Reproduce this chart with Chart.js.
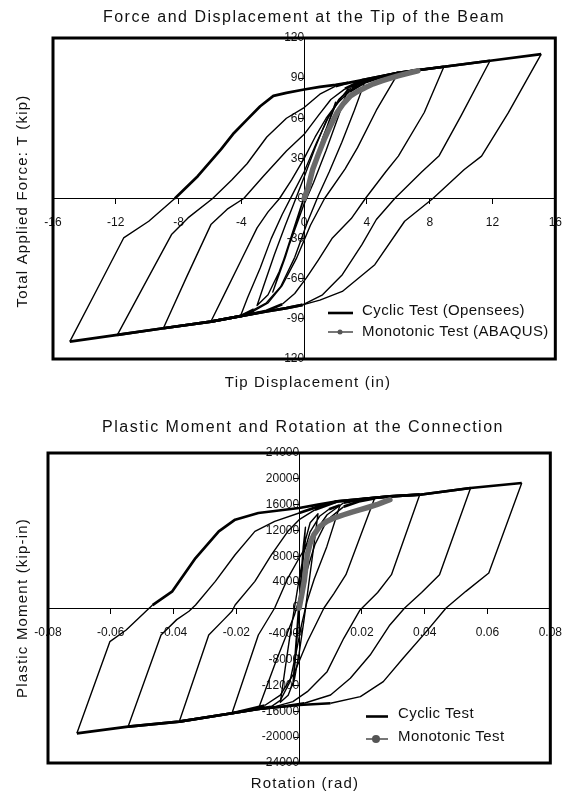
<!DOCTYPE html>
<html><head><meta charset="utf-8">
<script src="https://cdn.jsdelivr.net/npm/chart.js@4.4.1/dist/chart.umd.min.js"></script>
<style>
html,body{margin:0;padding:0;background:#fff;}
canvas{display:block;}
</style></head><body>
<canvas id="c1" width="574" height="398"></canvas>
<canvas id="c2" width="574" height="398"></canvas>
<script>
// ---------- Chart 1: Force vs tip displacement ----------
const topTitle = 'Force and Displacement at the Tip of the Beam';
const topXTitle = 'Tip Displacement (in)';
const topYTitle = 'Total Applied Force: T (kip)';
const topLegend = ['Cyclic Test (Opensees)', 'Monotonic Test (ABAQUS)'];
const topXTicks = [-16, -12, -8, -4, 0, 4, 8, 12, 16];
const topXTickLabels = ['-16', '-12', '-8', '-4', '0', '4', '8', '12', '16'];
const topYTicks = [-120, -90, -60, -30, 0, 30, 60, 90, 120];
const topYTickLabels = ['-120', '-90', '-60', '-30', '0', '30', '60', '90', '120'];

const topCyclicDisp = [
  0, 1, 2.0,
  1.2, 0.4, -0.4, -1.2, -2.0,
  -1.2, -0.4, 0.4, 1.2, 2.0, 2.8,
  2.2, 1.4, 0.6, 0, -0.8, -1.6, -2.3, -3.0,
  -2.6, -1.9, -1.2, -0.6, 0, 0.7, 1.4, 2.2, 3.0, 3.9,
  3.2, 2.4, 1.6, 0.9, 0.2, -0.6, -1.5, -2.4, -3.2, -4.06,
  -3.6, -2.8, -2.1, -1.4, -0.7, 0, 0.8, 1.6, 2.4, 3.4, 4.5, 6.0,
  4.6, 3.4, 2.6, 1.3, 0.4, -0.5, -1.4, -2.3, -3.2, -4.06, -5.0, -5.94,
  -5.0, -4.0, -3.0, -2.3, -1.57, -0.8, 0, 0.7, 1.4, 2.1, 2.9, 3.9, 5.0, 6.0, 7.2, 8.9,
  7.65, 6.0, 5.2, 3.9, 3.0, 1.8, 0.9, 0.13, -0.6, -1.4, -2.4, -4.06, -5.94, -8.97,
  -7.5, -5.94, -4.9, -3.85, -2.6, -1.13, 0, 0.9, 1.7, 2.6, 3.7, 6.0, 8.9, 11.84,
  10.0, 8.6, 7.5, 5.77, 4.6, 3.68, 2.43, 1.17, -0.1, -1.13, -2.4, -4.06, -5.94, -8.97, -11.9,
  -10.2, -8.45, -7.4, -5.83, -4.6, -3.64, -2.38, -1.13, 0, 1.0, 2.0, 2.8, 3.7, 6.0, 8.9, 11.84, 15.1,
  13.0, 11.3, 10.2, 8.2, 6.4, 4.5, 2.43, 1.0, -0.1, -1.13, -2.4, -4.06, -5.94, -8.97, -11.9, -14.93,
  -13.2, -11.5, -9.9, -8.24, -6.78, -5.3, -4.47, -3.64, -2.8, -1.96, -1.13, 0, 1.0, 2.0, 2.8
];
const topCyclicForce = [
  0, 37, 72,
  45, 15, -14, -44, -70,
  -42, -13, 16, 46, 70, 82,
  62, 36, 12, -4, -30, -55, -72, -80,
  -66, -42, -20, -2, 16, 38, 58, 74, 83, 88.5,
  66, 42, 20, 2, -18, -44, -66, -78, -83, -88,
  -74, -52, -30, -12, 4, 20, 42, 62, 76, 85, 90, 94,
  66, 38, 22, 0, -20, -45, -65, -78, -84, -88, -90, -92,
  -69.6, -45.8, -22, -10, 0, 14, 30, 46, 60, 71, 80, 87, 91, 94, 96, 98.5,
  64.3, 31.7, 20, 0, -15, -29.5, -46, -59.5, -71, -79, -84, -88, -92, -97,
  -59, -19.5, -8, 0, 16.7, 35.5, 48, 62, 74, 82, 88.5, 94, 98.5, 103,
  62, 32, 20, 0, -15.7, -34.5, -57, -72, -79.5, -82, -84.5, -88, -92, -97, -102,
  -65, -27, -14.5, 0, 14, 26, 46, 60, 68, 78, 84, 86.5, 88.5, 94, 98.5, 103, 108,
  64, 31.7, 21.7, 0, -17, -49.5, -69.5, -76, -79.5, -82, -84.5, -88, -92, -97, -102, -107,
  -68, -29.5, -17, 0, 16.7, 36.7, 49, 59, 69, 76.7, 79, 81.5, 83.5, 85, 86.5
];
const topMonoDisp = [0, 0.25, 0.54, 0.9, 1.27, 1.7, 2.1, 2.5, 2.95, 3.4, 3.9, 4.4, 4.94, 5.5, 5.98, 6.6, 7.24];
const topMonoForce = [0, 8, 21.7, 33, 44, 55, 64.3, 71, 76.7, 80, 83, 85.7, 88, 90, 91.7, 93.6, 95.5];

// ---------- Chart 2: Plastic moment vs rotation ----------
const botTitle = 'Plastic Moment and Rotation at the Connection';
const botXTitle = 'Rotation (rad)';
const botYTitle = 'Plastic Moment (kip-in)';
const botLegend = ['Cyclic Test', 'Monotonic Test'];
const botXTicks = [-0.08, -0.06, -0.04, -0.02, 0, 0.02, 0.04, 0.06, 0.08];
const botXTickLabels = ['-0.08', '-0.06', '-0.04', '-0.02', '0', '0.02', '0.04', '0.06', '0.08'];
const botYTicks = [-24000, -20000, -16000, -12000, -8000, -4000, 0, 4000, 8000, 12000, 16000, 20000, 24000];
const botYTickLabels = ['-24000', '-20000', '-16000', '-12000', '-8000', '-4000', '0', '4000', '8000', '12000', '16000', '20000', '24000'];

const botCyclicRot = [
  0, 0.0006, 0.0013, 0.002,
  0.0012, 0.0004, -0.0004, -0.0012, -0.002,
  -0.0012, -0.0003, 0.0008, 0.002, 0.0035, 0.006,
  0.0045, 0.003, 0.0015, 0, -0.0015, -0.0035, -0.006,
  -0.0045, -0.003, -0.0015, 0, 0.0015, 0.0035, 0.0065, 0.0095, 0.013,
  0.0088, 0.0048, 0.0025, 0.0008, -0.001, -0.003, -0.006, -0.009, -0.013,
  -0.0072, -0.0015, 0.001, 0.0026, 0.005, 0.0089, 0.0142, 0.019, 0.024,
  0.0149, 0.011, 0.0079, 0.0026, -0.0015, -0.006, -0.011, -0.0214,
  -0.013, -0.0078, -0.0036, 0, 0.004, 0.0089, 0.0142, 0.0208, 0.0289, 0.0384,
  0.0294, 0.025, 0.0194, 0.0142, 0.0089, 0.0026, -0.002, -0.008, -0.013, -0.0214, -0.0382,
  -0.0288, -0.024, -0.0214, -0.0204, -0.0141, -0.0088, -0.0036, 0, 0.005, 0.0121, 0.0289, 0.0384, 0.0546,
  0.0447, 0.039, 0.0336, 0.0289, 0.0226, 0.0163, 0.01, 0.0016, -0.005, -0.013, -0.0214, -0.0382, -0.0545,
  -0.044, -0.039, -0.0351, -0.033, -0.0267, -0.0204, -0.0141, -0.0078, 0, 0.006, 0.0121, 0.0289, 0.0384, 0.0546, 0.0709,
  0.0604, 0.0531, 0.0468, 0.0405, 0.0331, 0.0268, 0.0195, 0.01, 0, -0.013, -0.0214, -0.0382, -0.0545, -0.0708,
  -0.0603, -0.0551, -0.0488, -0.0467, -0.0404, -0.033, -0.0256, -0.0204, -0.013, 0, 0.006, 0.0121
];
const botCyclicMoment = [
  0, 5000, 9500, 12500,
  7000, 2000, -3000, -8000, -12000,
  -6500, -500, 5500, 10500, 13200, 14600,
  9000, 3500, -2000, -7000, -11000, -13500, -14600,
  -9500, -4500, 0, 4500, 8500, 11800, 14200, 15300, 15900,
  9500, 4500, 1000, -2500, -7000, -11500, -14300, -15300, -15640,
  -8000, -1080, 3000, 6000, 9800, 13600, 15700, 16500, 16950,
  5160, 2200, 0, -5220, -10000, -13500, -15100, -16300,
  -4180, 0, 4640, 7740, 11000, 14440, 16300, 16900, 17290, 17540,
  5160, 2400, -300, -4690, -9860, -12960, -14500, -15300, -15640, -16300, -17600,
  -4180, -1800, -510, 460, 4130, 8250, 11870, 13670, 15200, 16510, 17290, 17540, 18580,
  5160, 2400, 0, -2630, -7280, -10880, -13470, -14750, -15250, -15640, -16300, -17600, -18370,
  -4180, -1800, -510, 460, 4130, 8250, 11870, 13420, 14710, 15700, 16510, 17290, 17540, 18580, 19350,
  5420, 2580, 0, -3660, -7790, -11400, -13730, -14750, -15020, -15640, -16300, -17600, -18370, -19400,
  -5210, -3400, -510, 460, 2580, 7740, 11870, 13670, 14710, 15480, 16000, 16510
];
const botMonoRot = [0, 0.0008, 0.0016, 0.0021, 0.0026, 0.0035, 0.0047, 0.0065, 0.0089, 0.0115, 0.0142, 0.0168, 0.0195, 0.0221, 0.0247, 0.0268, 0.0289];
const botMonoMoment = [0, 2000, 4130, 6200, 8250, 10000, 11350, 12600, 13420, 14000, 14440, 14850, 15220, 15600, 15990, 16400, 16760];

// ---------- helpers ----------
const FONT = '"Liberation Sans", Arial, Helvetica, sans-serif';
Chart.defaults.font.family = FONT;
function pts(xs, ys) { return xs.map((x, i) => ({ x: x, y: ys[i] })); }

function setSpacing(ctx, v) { if ('letterSpacing' in ctx) ctx.letterSpacing = v; }

function decoPlugin(cfg) {
  return {
    id: 'deco',
    afterDraw(chart) {
      const ctx = chart.ctx, a = chart.chartArea;
      ctx.save();
      // plot box
      ctx.strokeStyle = '#000';
      ctx.lineWidth = 3;
      ctx.strokeRect(a.left, a.top, a.right - a.left, a.bottom - a.top);
      // titles
      ctx.fillStyle = '#111';
      ctx.textAlign = 'center';
      ctx.textBaseline = 'middle';
      setSpacing(ctx, '1.5px');
      ctx.font = '16px ' + FONT;
      ctx.fillText(cfg.title, cfg.titlePos[0], cfg.titlePos[1]);
      setSpacing(ctx, '1.2px');
      ctx.font = '15px ' + FONT;
      ctx.fillText(cfg.xTitle, cfg.xTitlePos[0], cfg.xTitlePos[1]);
      ctx.save();
      ctx.translate(cfg.yTitlePos[0], cfg.yTitlePos[1]);
      ctx.rotate(-Math.PI / 2);
      ctx.fillText(cfg.yTitle, 0, 0);
      ctx.restore();
      // legend
      const L = cfg.leg;
      ctx.lineCap = 'butt';
      ctx.strokeStyle = '#000';
      ctx.lineWidth = 2.6;
      ctx.beginPath(); ctx.moveTo(L.x1, L.y1); ctx.lineTo(L.x2, L.y1); ctx.stroke();
      ctx.strokeStyle = '#777';
      ctx.lineWidth = 2;
      ctx.beginPath(); ctx.moveTo(L.x1, L.y2); ctx.lineTo(L.x2, L.y2); ctx.stroke();
      ctx.fillStyle = '#555';
      ctx.beginPath(); ctx.arc(L.mx, L.y2, L.mr, 0, Math.PI * 2); ctx.fill();
      ctx.fillStyle = '#111';
      ctx.textAlign = 'left';
      setSpacing(ctx, '0.4px');
      ctx.font = '15px ' + FONT;
      ctx.fillText(cfg.legend[0], L.tx, L.ty1);
      ctx.fillText(cfg.legend[1], L.tx, L.ty2);
      ctx.restore();
    }
  };
}

function axisOpts(ticks, labels, isX, pad) {
  return {
    type: 'linear',
    position: isX ? { y: 0 } : { x: 0 },
    min: ticks[0], max: ticks[ticks.length - 1],
    afterBuildTicks: (ax) => { ax.ticks = ticks.map(v => ({ value: v })); },
    ticks: {
      callback: (v, i) => labels[i],
      autoSkip: false, maxRotation: 0, minRotation: 0,
      padding: pad, color: '#111', font: { size: 12, family: FONT }
    },
    grid: { drawOnChartArea: false, drawTicks: true, tickLength: 5, color: '#000', lineWidth: 1 },
    border: { display: true, color: '#000', width: 1 }
  };
}

function makeChart(id, cfg) {
  const minIdx = cfg.cycY.indexOf(Math.min.apply(null, cfg.cycY));
  return new Chart(document.getElementById(id), {
    type: 'scatter',
    data: {
      datasets: [
        {
          label: cfg.legend[1], data: pts(cfg.monoX, cfg.monoY), showLine: true,
          borderColor: '#6a6a6a', borderWidth: 5.5, pointRadius: 0, tension: 0, fill: false,
          borderJoinStyle: 'round', borderCapStyle: 'round'
        },
        {
          label: cfg.legend[0], data: pts(cfg.cycX, cfg.cycY), showLine: true,
          borderColor: '#000', borderWidth: 1.4, pointRadius: 0, tension: 0, fill: false,
          borderJoinStyle: 'round',
          segment: {
            borderWidth: (c) => ((c.p0DataIndex >= minIdx && c.p0.parsed.y >= 0) ||
              (Math.abs(c.p0.parsed.y) >= cfg.thick && Math.abs(c.p1.parsed.y) >= cfg.thick)) ? 2.7 : 1.4
          }
        }
      ]
    },
    options: {
      responsive: false, animation: false, devicePixelRatio: 1,
      layout: { padding: cfg.pad },
      plugins: { legend: { display: false }, tooltip: { enabled: false }, title: { display: false } },
      scales: {
        x: axisOpts(cfg.xTicks, cfg.xLabels, true, 12),
        y: axisOpts(cfg.yTicks, cfg.yLabels, false, 5)
      }
    },
    plugins: [decoPlugin(cfg)]
  });
}

makeChart('c1', {
  title: topTitle, xTitle: topXTitle, yTitle: topYTitle, legend: topLegend,
  cycX: topCyclicDisp, cycY: topCyclicForce, monoX: topMonoDisp, monoY: topMonoForce,
  xTicks: topXTicks, xLabels: topXTickLabels, yTicks: topYTicks, yLabels: topYTickLabels,
  thick: 79,
  pad: { left: 53, right: 11, top: 38, bottom: 39 },
  titlePos: [304, 18], xTitlePos: [308, 383], yTitlePos: [23, 201],
  leg: { x1: 328, x2: 353, y1: 313, y2: 332, mx: 340, mr: 2.5, tx: 362, ty1: 311, ty2: 331.5 }
});

makeChart('c2', {
  title: botTitle, xTitle: botXTitle, yTitle: botYTitle, legend: botLegend,
  cycX: botCyclicRot, cycY: botCyclicMoment, monoX: botMonoRot, monoY: botMonoMoment,
  xTicks: botXTicks, xLabels: botXTickLabels, yTicks: botYTicks, yLabels: botYTickLabels,
  thick: 14700,
  pad: { left: 48, right: 18, top: 55, bottom: 33 },
  titlePos: [303, 30], xTitlePos: [305, 386], yTitlePos: [23, 210],
  leg: { x1: 366, x2: 388, y1: 318.5, y2: 341, mx: 376, mr: 4, tx: 398, ty1: 316, ty2: 339 }
});
</script>
</body></html>
